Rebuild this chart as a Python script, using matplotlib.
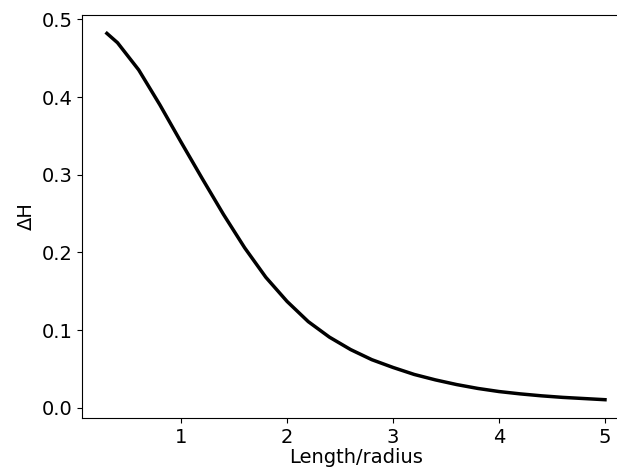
import numpy as np
import matplotlib
matplotlib.use("Agg")
import matplotlib.pyplot as plt

# valores
length_radius = [0.3, 0.4, 0.6, 0.8, 1.0, 1.2, 1.4, 1.6, 1.8, 2.0, 2.2, 2.4,
                 2.6, 2.8, 3.0, 3.2, 3.4, 3.6, 3.8, 4.0, 4.2, 4.4, 4.6, 4.8, 5.0]
delta_h = [0.482, 0.470, 0.435, 0.390, 0.342, 0.295, 0.249, 0.206, 0.168,
           0.137, 0.111, 0.091, 0.075, 0.062, 0.052, 0.043, 0.036, 0.030,
           0.025, 0.021, 0.018, 0.0155, 0.0135, 0.012, 0.0105]

fig = plt.figure(figsize=(6.17, 4.68), dpi=100)
# el original esta recortado a la derecha
ax = fig.add_axes([0.1329, 0.1068, 0.888, 0.861])
ax.plot(length_radius, delta_h, color="black", lw=2.5)

ax.set_xticks([1, 2, 3, 4, 5])
ax.set_yticks([0.0, 0.1, 0.2, 0.3, 0.4, 0.5])
ax.tick_params(labelsize=14)
ax.set_xlabel("Length/radius", fontsize=14, labelpad=1)
ax.set_ylabel("ΔH", fontsize=14)

fig.savefig("out.png", dpi=100)
